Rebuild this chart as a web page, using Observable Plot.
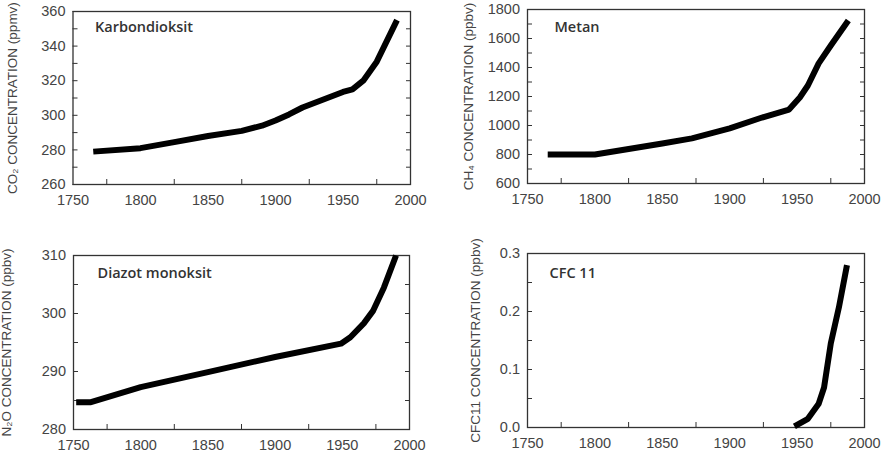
<!DOCTYPE html>
<html><head><meta charset="utf-8">
<script src="https://cdn.jsdelivr.net/npm/d3@7"></script>
<script src="https://cdn.jsdelivr.net/npm/@observablehq/plot@0.6"></script>
<style>
body{margin:0;background:#fff;}
#wrap{position:relative;width:882px;height:455px;overflow:hidden;}
.panel{position:absolute;}
</style></head><body><div id="wrap"></div>
<script>
// ---- data ----
const co2Years  = [1765, 1800, 1825, 1850, 1875, 1890, 1900, 1910, 1920, 1935, 1950, 1957, 1965, 1975, 1990];
const co2Values = [279, 281, 284.5, 288, 291, 294, 297, 300.5, 304.5, 309, 313.5, 315, 320, 331, 355];

const ch4Years  = [1765, 1800, 1850, 1872, 1900, 1924, 1944, 1952, 1958, 1966, 1975, 1988];
const ch4Values = [800, 800, 876, 911, 980, 1055, 1110, 1193, 1276, 1428, 1552, 1724];

const n2oYears  = [1752, 1763, 1800, 1850, 1900, 1949, 1956, 1966, 1973, 1981, 1990];
const n2oValues = [284.7, 284.7, 287.3, 289.9, 292.5, 294.8, 295.9, 298.3, 300.5, 304.5, 310];

const cfcYears  = [1948, 1958, 1966, 1970, 1975, 1981, 1987];
const cfcValues = [0.002, 0.015, 0.041, 0.069, 0.145, 0.207, 0.28];

const titles = ["Karbondioksit", "Metan", "Diazot monoksit", "CFC 11"];
const yLabels = ["CO₂ CONCENTRATION (ppmv)", "CH₄ CONCENTRATION (ppbv)", "N₂O CONCENTRATION (ppbv)", "CFC11 CONCENTRATION (ppbv)"];

const xDomain = [1750, 2000];
const xMajor = [1750, 1800, 1850, 1900, 1950, 2000];
const xMinor = [1775, 1825, 1875, 1925, 1975];

const co2Domain = [260, 360], co2Major = [260, 280, 300, 320, 340, 360], co2All = d3.range(260, 361, 10);
const ch4Domain = [600, 1800], ch4Major = [600, 800, 1000, 1200, 1400, 1600, 1800], ch4All = d3.range(600, 1801, 100);
const n2oDomain = [280, 310], n2oMajor = [280, 290, 300, 310], n2oAll = d3.range(280, 311, 5);
const cfcDomain = [0, 0.3], cfcMajor = [0, 0.1, 0.2, 0.3], cfcAll = [0, 0.05, 0.1, 0.15, 0.2, 0.25, 0.3];

// ---- layout ----
const panels = [
  {years: co2Years, values: co2Values, title: titles[0], label: yLabels[0], domain: co2Domain, major: co2Major, all: co2All, fmt: d3.format("d"),
   left: 0, top: 0, width: 441, height: 215, mL: 72.5, mR: 31, mT: 11, mB: 31, tdx: 22, tdy: 16, labelOffset: 66},
  {years: ch4Years, values: ch4Values, title: titles[1], label: yLabels[1], domain: ch4Domain, major: ch4Major, all: ch4All, fmt: d3.format("d"),
   left: 441, top: 0, width: 441, height: 215, mL: 86, mR: 18, mT: 9, mB: 32, tdx: 27, tdy: 18, labelOffset: 64},
  {years: n2oYears, values: n2oValues, title: titles[2], label: yLabels[2], domain: n2oDomain, major: n2oMajor, all: n2oAll, fmt: d3.format("d"),
   left: 0, top: 230, width: 441, height: 225, mL: 73, mR: 32, mT: 25, mB: 26, tdx: 24, tdy: 18, labelOffset: 72},
  {years: cfcYears, values: cfcValues, title: titles[3], label: yLabels[3], domain: cfcDomain, major: cfcMajor, all: cfcAll, fmt: d3.format(".1f"),
   left: 441, top: 230, width: 441, height: 225, mL: 86, mR: 18, mT: 23, mB: 28, tdx: 22, tdy: 20, labelOffset: 57}
];

const wrap = document.getElementById("wrap");
for (const p of panels) {
  const data = p.years.map((x, i) => ({x, y: p.values[i]}));
  const chart = Plot.plot({
    width: p.width, height: p.height,
    marginLeft: p.mL, marginRight: p.mR, marginTop: p.mT, marginBottom: p.mB,
    x: {domain: xDomain},
    y: {domain: p.domain},
    style: {fontFamily: "'Liberation Sans', Arial, sans-serif", fontSize: "14px", color: "#444", background: "transparent"},
    marks: [
      Plot.frame({stroke: "#333", strokeWidth: 1.3}),
      Plot.axisX({ticks: xMajor, tickSize: 0, tickPadding: 10, tickFormat: d3.format("d"), label: null, fontSize: 14.5, fill: "#444"}),
      Plot.axisX({ticks: xMinor, tickSize: 5, dy: -5, tickFormat: () => "", label: null, stroke: "#333"}),
      Plot.axisY({ticks: p.major, tickSize: 0, tickPadding: 7.5, tickFormat: p.fmt, label: null, fontSize: 14.5, fill: "#444"}),
      Plot.axisY({ticks: p.major, tickSize: 0, tickFormat: () => "", label: p.label, labelAnchor: "center", labelArrow: "none",
                  labelOffset: p.labelOffset, fontSize: 13.5, fill: "#444"}),
      Plot.axisY({ticks: p.all, tickSize: 5, dx: 5, tickFormat: () => "", label: null, stroke: "#333"}),
      Plot.axisY({anchor: "right", ticks: p.all, tickSize: 5, dx: -5, tickFormat: () => "", label: null, stroke: "#333"}),
      Plot.line(data, {x: "x", y: "y", stroke: "#000", strokeWidth: 6, strokeLinejoin: "round", strokeLinecap: "butt"}),
      Plot.text([p.title], {frameAnchor: "top-left", dx: p.tdx, dy: p.tdy, textAnchor: "start", lineAnchor: "middle",
                 fontFamily: "'Open Sans', sans-serif", fontWeight: 600, fontSize: 14.5, fill: "#333"})
    ]
  });
  chart.classList.add("panel");
  chart.style.left = p.left + "px";
  chart.style.top = p.top + "px";
  wrap.appendChild(chart);
}
</script></body></html>
